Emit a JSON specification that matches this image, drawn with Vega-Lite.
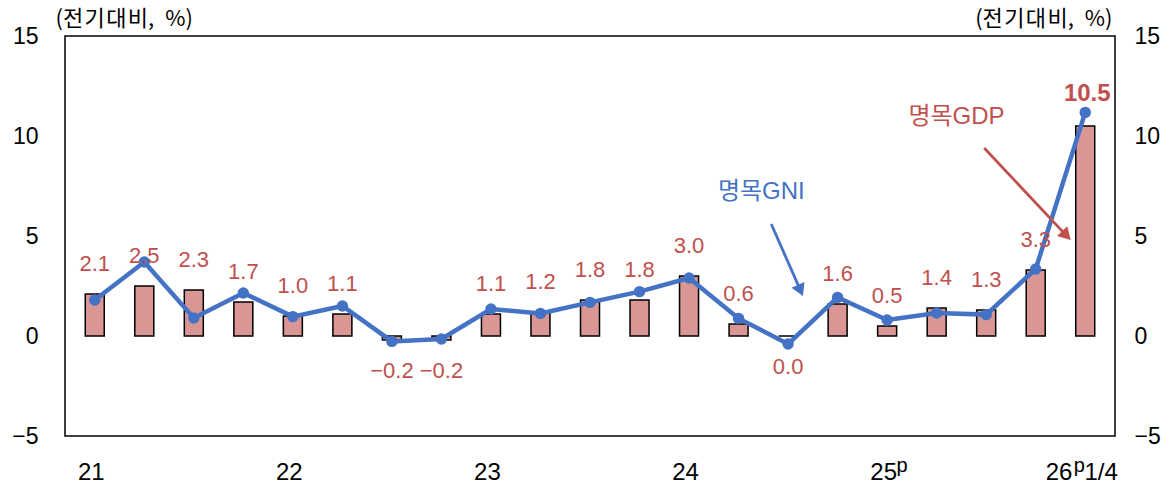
{
  "$schema": "https://vega.github.io/schema/vega-lite/v6.json",
  "width": 1050,
  "height": 400,
  "autosize": "none",
  "padding": {"left": 65, "top": 36, "right": 61, "bottom": 54},
  "background": "white",
  "datasets": {
    "main": [
      {"q": "2021Q1", "i": 0, "gdp": 2.1, "gni": 1.8},
      {"q": "2021Q2", "i": 1, "gdp": 2.5, "gni": 3.7},
      {"q": "2021Q3", "i": 2, "gdp": 2.3, "gni": 0.9},
      {"q": "2021Q4", "i": 3, "gdp": 1.7, "gni": 2.15},
      {"q": "2022Q1", "i": 4, "gdp": 1.0, "gni": 0.97},
      {"q": "2022Q2", "i": 5, "gdp": 1.1, "gni": 1.5},
      {"q": "2022Q3", "i": 6, "gdp": -0.2, "gni": -0.27},
      {"q": "2022Q4", "i": 7, "gdp": -0.2, "gni": -0.15},
      {"q": "2023Q1", "i": 8, "gdp": 1.1, "gni": 1.35},
      {"q": "2023Q2", "i": 9, "gdp": 1.2, "gni": 1.13},
      {"q": "2023Q3", "i": 10, "gdp": 1.8, "gni": 1.68},
      {"q": "2023Q4", "i": 11, "gdp": 1.8, "gni": 2.22},
      {"q": "2024Q1", "i": 12, "gdp": 3.0, "gni": 2.9},
      {"q": "2024Q2", "i": 13, "gdp": 0.6, "gni": 0.88},
      {"q": "2024Q3", "i": 14, "gdp": 0.0, "gni": -0.4},
      {"q": "2024Q4", "i": 15, "gdp": 1.6, "gni": 1.93},
      {"q": "2025Q1", "i": 16, "gdp": 0.5, "gni": 0.8},
      {"q": "2025Q2", "i": 17, "gdp": 1.4, "gni": 1.15},
      {"q": "2025Q3", "i": 18, "gdp": 1.3, "gni": 1.07},
      {"q": "2025Q4", "i": 19, "gdp": 3.3, "gni": 3.35},
      {"q": "2026Q1", "i": 20, "gdp": 10.5, "gni": 11.18}
    ],
    "arrows": [
      {"series": "GDP", "x0": 17.96, "y0": 9.4, "x1": 19.62, "y1": 5.02},
      {"series": "GNI", "x0": 13.66, "y0": 5.6, "x1": 14.25, "y1": 2.28}
    ],
    "notes": [
      {"series": "GDP", "label": "명목GDP", "x": 17.4, "y": 10.95},
      {"series": "GNI", "label": "명목GNI", "x": 13.46, "y": 7.2}
    ],
    "sup": [
      {"i": 16, "y": -5},
      {"i": 20, "y": -5}
    ]
  },
  "layer": [
    {
      "data": {"name": "main"},
      "mark": {"type": "bar", "width": 19, "fill": "#D99694", "stroke": "#000000", "strokeWidth": 1.5},
      "encoding": {
        "x": {
          "field": "i", "type": "quantitative",
          "scale": {"domain": [-0.5, 20.5], "nice": false, "zero": false},
          "axis": {
            "values": [0, 4, 8, 12, 16, 20],
            "labelExpr": "datum.value == 0 ? '21' : datum.value == 4 ? '22' : datum.value == 8 ? '23' : datum.value == 12 ? '24' : datum.value == 16 ? '25' : '26\u20021/4'",
            "ticks": false, "domain": false, "grid": false, "title": null,
            "labelFlush": false, "labelOverlap": false, "labelPadding": 24, "labelOffset": -4,
            "labelFontSize": 24, "labelColor": "#000000", "labelFont": "Liberation Sans"
          }
        },
        "y": {
          "field": "gdp", "type": "quantitative",
          "scale": {"domain": [-5, 15], "nice": false},
          "axis": {
            "orient": "left", "values": [-5, 0, 5, 10, 15],
            "ticks": false, "domain": false, "grid": false,
            "labelPadding": 27, "labelFontSize": 23, "labelColor": "#000000", "labelFont": "Liberation Sans",
            "title": "(전\u200a기\u200a대\u200a비,\u2002%)", "titleAngle": 0, "titleX": -10, "titleY": -18,
            "titleAlign": "left", "titleBaseline": "middle", "titleFontSize": 22,
            "titleFontWeight": "normal", "titleFont": "Noto Sans CJK KR", "titleColor": "#000000"
          }
        }
      }
    },
    {
      "mark": {"type": "rule", "color": "#000000", "strokeWidth": 1.5},
      "encoding": {"y": {"datum": 0, "type": "quantitative", "axis": null}}
    },
    {
      "data": {"name": "main"},
      "mark": {"type": "line", "color": "#4472C4", "strokeWidth": 4.5,
               "point": {"filled": true, "size": 130, "color": "#4472C4"}},
      "encoding": {
        "x": {"field": "i", "type": "quantitative"},
        "y": {
          "field": "gni", "type": "quantitative",
          "axis": {
            "orient": "right", "values": [-5, 0, 5, 10, 15],
            "ticks": false, "domain": false, "grid": false,
            "labelPadding": 19, "labelFontSize": 23, "labelColor": "#000000", "labelFont": "Liberation Sans",
            "title": "(전\u200a기\u200a대\u200a비,\u2002%)", "titleAngle": 0, "titleX": -3, "titleY": -18,
            "titleAlign": "right", "titleBaseline": "middle", "titleFontSize": 22,
            "titleFontWeight": "normal", "titleFont": "Noto Sans CJK KR", "titleColor": "#000000"
          }
        }
      }
    },
    {
      "data": {"name": "main"},
      "transform": [{"filter": "datum.gni >= 0 && datum.i < 20"}],
      "mark": {"type": "text", "dy": -30, "color": "#C0504D", "fontSize": 22, "font": "Liberation Sans", "baseline": "middle"},
      "encoding": {
        "x": {"field": "i", "type": "quantitative"},
        "y": {"field": "gdp", "type": "quantitative", "axis": null},
        "text": {"field": "gdp", "type": "quantitative", "format": ".1f"}
      }
    },
    {
      "data": {"name": "main"},
      "transform": [{"filter": "datum.gni < 0"}],
      "mark": {"type": "text", "dy": 31, "color": "#C0504D", "fontSize": 22, "font": "Liberation Sans", "baseline": "middle"},
      "encoding": {
        "x": {"field": "i", "type": "quantitative"},
        "y": {"field": "gdp", "type": "quantitative", "axis": null},
        "text": {"field": "gdp", "type": "quantitative", "format": ".1f"}
      }
    },
    {
      "data": {"name": "main"},
      "transform": [{"filter": "datum.i == 20"}],
      "mark": {"type": "text", "dy": -32, "dx": 2, "color": "#C0504D", "fontSize": 24, "fontWeight": "bold", "font": "Liberation Sans", "baseline": "middle"},
      "encoding": {
        "x": {"field": "i", "type": "quantitative"},
        "y": {"field": "gdp", "type": "quantitative", "axis": null},
        "text": {"field": "gdp", "type": "quantitative", "format": ".1f"}
      }
    },
    {
      "data": {"name": "arrows"},
      "mark": {"type": "rule", "strokeWidth": 2.8},
      "encoding": {
        "x": {"field": "x0", "type": "quantitative"},
        "y": {"field": "y0", "type": "quantitative", "axis": null},
        "x2": {"field": "x1"},
        "y2": {"field": "y1"},
        "color": {"field": "series", "type": "nominal", "scale": {"domain": ["GDP", "GNI"], "range": ["#C0504D", "#4472C4"]}, "legend": null}
      }
    },
    {
      "data": {"name": "arrows"},
      "transform": [{"filter": "datum.series == 'GDP'"}],
      "mark": {"type": "point", "shape": "triangle-up", "filled": true, "size": 200, "angle": 136, "opacity": 1, "color": "#C0504D"},
      "encoding": {
        "x": {"field": "x1", "type": "quantitative"},
        "y": {"field": "y1", "type": "quantitative", "axis": null}
      }
    },
    {
      "data": {"name": "arrows"},
      "transform": [{"filter": "datum.series == 'GNI'"}],
      "mark": {"type": "point", "shape": "triangle-up", "filled": true, "size": 200, "angle": 156, "opacity": 1, "color": "#4472C4"},
      "encoding": {
        "x": {"field": "x1", "type": "quantitative"},
        "y": {"field": "y1", "type": "quantitative", "axis": null}
      }
    },
    {
      "data": {"name": "notes"},
      "mark": {"type": "text", "fontSize": 24, "font": "Liberation Sans, Noto Sans CJK KR", "baseline": "middle"},
      "encoding": {
        "x": {"field": "x", "type": "quantitative"},
        "y": {"field": "y", "type": "quantitative", "axis": null},
        "text": {"field": "label"},
        "color": {"field": "series", "type": "nominal", "scale": {"domain": ["GDP", "GNI"], "range": ["#C0504D", "#4472C4"]}, "legend": null}
      }
    },
    {
      "data": {"name": "sup"},
      "transform": [{"filter": "datum.i == 16"}],
      "mark": {"type": "text", "dx": 15, "dy": 30, "fontSize": 20, "font": "Liberation Sans", "color": "#000000", "baseline": "middle", "clip": false},
      "encoding": {
        "x": {"field": "i", "type": "quantitative"},
        "y": {"field": "y", "type": "quantitative", "axis": null},
        "text": {"value": "p"}
      }
    },
    {
      "data": {"name": "sup"},
      "transform": [{"filter": "datum.i == 20"}],
      "mark": {"type": "text", "dx": -6, "dy": 30, "fontSize": 20, "font": "Liberation Sans", "color": "#000000", "baseline": "middle", "clip": false},
      "encoding": {
        "x": {"field": "i", "type": "quantitative"},
        "y": {"field": "y", "type": "quantitative", "axis": null},
        "text": {"value": "p"}
      }
    }
  ],
  "resolve": {"axis": {"y": "independent"}},
  "config": {
    "view": {"stroke": "#000000", "strokeWidth": 1.5},
    "axis": {"labelFont": "Liberation Sans"}
  }
}
